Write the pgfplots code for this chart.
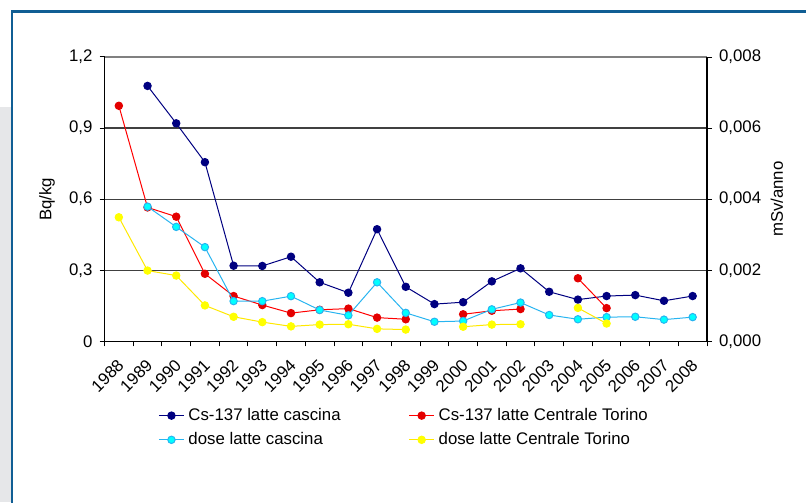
\documentclass[border=0pt]{standalone}
\usepackage{fontspec}
\setmainfont{Liberation Sans}
\usepackage{pgfplots}
\pgfplotsset{compat=1.18}
\definecolor{frameblue}{RGB}{16,94,148}
\definecolor{panelgrey}{RGB}{230,231,233}
\definecolor{cnavy}{RGB}{0,0,128}
\definecolor{cred}{RGB}{228,0,0}
\definecolor{credline}{RGB}{255,0,0}
\definecolor{ccyan}{RGB}{0,255,255}
\definecolor{ccyanline}{RGB}{40,180,240}
\definecolor{cyel}{RGB}{255,255,0}
\definecolor{cyelline}{RGB}{255,232,0}
\begin{document}
\begin{tikzpicture}[font=\fontsize{8.4}{10}\selectfont]
\path[use as bounding box] (0,0) rectangle (403pt,251pt);
\fill[panelgrey] (0,0) rectangle (5.5pt,197.5pt);
\draw[frameblue, line width=1.25pt] (6pt,-2pt) -- (6pt,245.25pt) -- (405pt,245.25pt);
\pgfplotsset{
  myaxis/.style={
    scale only axis, width=301.25pt, height=142.15pt,
    at={(52.25pt,80.35pt)}, anchor=south west,
    xmin=-0.5, xmax=20.5,
    tick align=outside, major tick length=2.5pt,
    unbounded coords=jump,
    /pgf/number format/assume math mode=true,
    tick style={black, line width=0.5pt},
    axis line style={black, line width=0.6pt},
    legend image code/.code={\draw[mark repeat=2, mark phase=2, ##1] plot coordinates {(0pt,0pt) (6.25pt,0pt) (12.5pt,0pt)};},
  },
  snavy/.style={cnavy, line width=0.5pt, mark=*, mark size=1.85pt, mark options={fill=cnavy, draw=cnavy}},
  sred/.style={credline, line width=0.5pt, mark=*, mark size=1.85pt, mark options={fill=cred, draw=cred}},
  scyan/.style={ccyanline, line width=0.5pt, mark=*, mark size=1.85pt, mark options={fill=ccyan, draw=ccyanline}},
  syel/.style={cyelline, line width=0.5pt, mark=*, mark size=1.85pt, mark options={fill=cyel, draw=cyel}},
}
\begin{axis}[myaxis,
  axis x line*=bottom, axis y line*=left,
  ymin=0, ymax=1.2, ytick={0,0.3,0.6,0.9,1.2},
  yticklabel style={/pgf/number format/.cd, fixed, precision=1, use comma},
  ymajorgrids, grid style={black!75, line width=0.6pt},
  xtick={-0.5,0.5,...,20.5},
  xticklabels={1988,1989,1990,1991,1992,1993,1994,1995,1996,1997,1998,1999,2000,2001,2002,2003,2004,2005,2006,2007,2008,{}},
  xticklabel style={rotate=45, anchor=north east, xshift=3.5pt, yshift=-5pt},
  ylabel={Bq/kg},
  ylabel style={at={(axis description cs:-0.0954,0.5)}, anchor=center},
]
\draw[gray, line width=1pt] (axis cs:-0.5,1.2) -- (axis cs:20.5,1.2);
\addplot[snavy] coordinates {
(1,1.078) (2,0.920) (3,0.756) (4,0.319) (5,0.318) (6,0.357) (7,0.249) (8,0.205) (9,0.473) (10,0.230)
(11,0.157) (12,0.165) (13,0.253) (14,0.308) (15,0.209) (16,0.176) (17,0.191) (18,0.195) (19,0.171) (20,0.191)};
\addplot[sred] coordinates {
(0,0.994) (1,0.565) (2,0.526) (3,0.285) (4,0.191) (5,0.153) (6,0.119) (7,0.133) (8,0.138) (9,0.100) (10,0.093)
(11,nan) (12,0.114) (13,0.129) (14,0.136) (15,nan) (16,0.266) (17,0.140)};
\end{axis}
\begin{axis}[myaxis,
  axis x line=none, axis y line*=right,
  ymin=0, ymax=0.008, ytick={0,0.002,0.004,0.006,0.008},
  scaled y ticks=false,
  yticklabel style={/pgf/number format/.cd, fixed, fixed zerofill, precision=3, use comma},
  ylabel={mSv/anno},
  ylabel style={at={(axis description cs:1.116,0.5)}, anchor=center, rotate=0},
  legend columns=2,
  legend cell align=left,
  legend style={draw=none, fill=none, at={(axis description cs:0.499,-0.304)}, anchor=center,
    /tikz/every even column/.append style={column sep=32pt}, row sep=0.5pt},
]
\addlegendimage{snavy}
\addlegendentry{Cs-137 latte cascina}
\addlegendimage{sred}
\addlegendentry{Cs-137 latte Centrale Torino}
\addplot[scyan] coordinates {
(1,0.00379) (2,0.00322) (3,0.00265) (4,0.00113) (5,0.00113) (6,0.00127) (7,0.00088) (8,0.00073) (9,0.00166) (10,0.00080)
(11,0.00055) (12,0.00057) (13,0.00090) (14,0.00109) (15,0.00074) (16,0.00062) (17,0.00068) (18,0.00069) (19,0.00061) (20,0.00068)};
\addlegendentry{dose latte cascina}
\addplot[syel] coordinates {
(0,0.00349) (1,0.00199) (2,0.00185) (3,0.00101) (4,0.00069) (5,0.00054) (6,0.00042) (7,0.00047) (8,0.00048) (9,0.00035) (10,0.00033)
(11,nan) (12,0.00041) (13,0.00047) (14,0.00048) (15,nan) (16,0.00094) (17,0.00050)};
\addlegendentry{dose latte Centrale Torino}
\end{axis}
\end{tikzpicture}
\end{document}
